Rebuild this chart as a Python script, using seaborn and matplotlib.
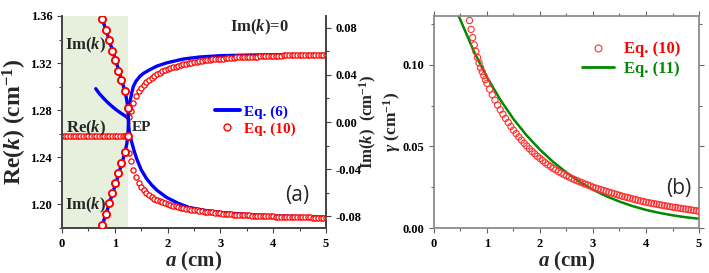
import matplotlib
matplotlib.use('Agg')
import matplotlib.pyplot as plt
from matplotlib.lines import Line2D
from matplotlib.ticker import MultipleLocator
import seaborn as sns

# ---------------- panel (a) ----------------
# Eq. (6), blue lines
a6_im = [0.74, 0.80, 0.86, 0.92, 0.98, 1.04, 1.10, 1.16, 1.20, 1.23, 1.25, 1.26]
im6_up = [0.0910, 0.0825, 0.0745, 0.0658, 0.0575, 0.0490, 0.0400, 0.0310, 0.0245, 0.0180, 0.0105, 0.0]
im6_lo = [-0.0910, -0.0825, -0.0745, -0.0658, -0.0575, -0.0490, -0.0400, -0.0310, -0.0245, -0.0180, -0.0105, 0.0]

a6_arc = [0.64, 0.70, 0.78, 0.86, 0.94, 1.02, 1.10, 1.18, 1.26]
re6_arc = [1.2983, 1.2945, 1.2905, 1.2868, 1.2836, 1.2806, 1.2780, 1.2757, 1.2730]

a6_up = [1.26, 1.265, 1.275, 1.29, 1.32, 1.35, 1.40, 1.477, 1.55, 1.667, 1.80, 1.983, 2.30, 2.61, 3.00, 3.50, 4.00, 5.00]
re6_up = [1.2720, 1.2780, 1.2830, 1.2875, 1.2945, 1.3000, 1.3045, 1.3089, 1.3115, 1.3145, 1.3175, 1.3202,
          1.3235, 1.3252, 1.3263, 1.3268, 1.3271, 1.3273]
a6_lo = [1.26, 1.265, 1.275, 1.29, 1.32, 1.36, 1.415, 1.50, 1.60, 1.70, 1.80, 1.98, 2.20, 2.40, 2.70, 3.00,
         3.50, 4.00, 5.00]
re6_lo = [1.2720, 1.2660, 1.2620, 1.2585, 1.2530, 1.2465, 1.2387, 1.2295, 1.2220, 1.2165, 1.2120, 1.2060,
          1.2010, 1.1975, 1.1950, 1.1932, 1.1915, 1.1903, 1.1892]

# Eq. (10), red circles
a10_im = [0.765, 0.830, 0.893, 0.953, 1.013, 1.070, 1.127, 1.193, 1.248]
im10_up = [0.0877, 0.0785, 0.0695, 0.0605, 0.0526, 0.0436, 0.0355, 0.0259, 0.0120]
im10_lo = [-0.0877, -0.0785, -0.0689, -0.0605, -0.0520, -0.0436, -0.0352, -0.0254, -0.0120]

a10_flat = [0.00, 0.05, 0.10, 0.15, 0.20, 0.25, 0.30, 0.35, 0.40, 0.45, 0.50, 0.55, 0.60, 0.65, 0.70, 0.75,
            0.80, 0.85, 0.90, 0.95, 1.00, 1.05, 1.10, 1.15, 1.20]
re10_flat = [1.258, 1.258, 1.258, 1.258, 1.258, 1.258, 1.258, 1.258, 1.258, 1.258, 1.258, 1.258, 1.258,
             1.258, 1.258, 1.258, 1.258, 1.258, 1.258, 1.258, 1.258, 1.258, 1.258, 1.258, 1.258]

a10_re = [1.27, 1.30, 1.35, 1.40, 1.45, 1.50, 1.55, 1.60, 1.65, 1.70, 1.75, 1.80, 1.85, 1.90, 1.95, 2.00,
          2.05, 2.10, 2.15, 2.20, 2.25, 2.30, 2.35, 2.40, 2.45, 2.50, 2.55, 2.60, 2.65, 2.70, 2.75, 2.80,
          2.85, 2.90, 2.95, 3.00, 3.05, 3.10, 3.15, 3.20, 3.25, 3.30, 3.35, 3.40, 3.45, 3.50, 3.55, 3.60,
          3.65, 3.70, 3.75, 3.80, 3.85, 3.90, 3.95, 4.00, 4.05, 4.10, 4.15, 4.20, 4.25, 4.30, 4.35, 4.40,
          4.45, 4.50, 4.55, 4.60, 4.65, 4.70, 4.75, 4.80, 4.85, 4.90, 4.95, 5.00]
re10_up = [1.2740, 1.2790, 1.2862, 1.2918, 1.2960, 1.2990, 1.3015, 1.3037, 1.3058, 1.3076, 1.3092, 1.3106,
           1.3118, 1.3129, 1.3139, 1.3148, 1.3156, 1.3164, 1.3171, 1.3178, 1.3184, 1.3190, 1.3195, 1.3200,
           1.3205, 1.3209, 1.3213, 1.3217, 1.3220, 1.3223, 1.3226, 1.3229, 1.3231, 1.3233, 1.3235, 1.3237,
           1.3239, 1.3241, 1.3243, 1.3245, 1.3246, 1.3248, 1.3249, 1.3250, 1.3251, 1.3252, 1.3253, 1.3254,
           1.3255, 1.3256, 1.3257, 1.3258, 1.3259, 1.3260, 1.3261, 1.3262, 1.3263, 1.3263, 1.3264, 1.3265,
           1.3265, 1.3266, 1.3267, 1.3267, 1.3268, 1.3268, 1.3269, 1.3269, 1.3270, 1.3270, 1.3271, 1.3271,
           1.3271, 1.3272, 1.3272, 1.3272]
re10_lo = [1.2440, 1.2370, 1.2290, 1.2232, 1.2185, 1.2150, 1.2122, 1.2100, 1.2080, 1.2064, 1.2050, 1.2038,
           1.2027, 1.2018, 1.2010, 1.2003, 1.1996, 1.1990, 1.1984, 1.1978, 1.1973, 1.1968, 1.1964, 1.1960,
           1.1956, 1.1952, 1.1949, 1.1946, 1.1943, 1.1940, 1.1937, 1.1934, 1.1932, 1.1929, 1.1927, 1.1925,
           1.1921, 1.1919, 1.1917, 1.1915, 1.1914, 1.1912, 1.1911, 1.1910, 1.1909, 1.1908, 1.1907, 1.1906,
           1.1905, 1.1904, 1.1903, 1.1902, 1.1901, 1.1900, 1.1899, 1.1898, 1.1897, 1.1897, 1.1896, 1.1895,
           1.1895, 1.1894, 1.1893, 1.1893, 1.1892, 1.1892, 1.1891, 1.1891, 1.1890, 1.1890, 1.1889, 1.1889,
           1.1889, 1.1888, 1.1888, 1.1888]

# ---------------- panel (b) ----------------
a_b10 = [0.67, 0.70, 0.73, 0.76, 0.79, 0.82, 0.85, 0.88, 0.91, 0.94, 0.97, 1.00, 1.05, 1.10, 1.15, 1.20,
         1.25, 1.30, 1.35, 1.40, 1.45, 1.50, 1.55, 1.60, 1.65, 1.70, 1.75, 1.80, 1.85, 1.90, 1.95, 2.00,
         2.05, 2.10, 2.15, 2.20, 2.25, 2.30, 2.35, 2.40, 2.45, 2.50, 2.55, 2.60, 2.65, 2.70, 2.75, 2.80,
         2.85, 2.90, 2.95, 3.00, 3.05, 3.10, 3.15, 3.20, 3.25, 3.30, 3.35, 3.40, 3.45, 3.50, 3.55, 3.60,
         3.65, 3.70, 3.75, 3.80, 3.85, 3.90, 3.95, 4.00, 4.05, 4.10, 4.15, 4.20, 4.25, 4.30, 4.35, 4.40,
         4.45, 4.50, 4.55, 4.60, 4.65, 4.70, 4.75, 4.80, 4.85, 4.90, 4.95, 5.00]
gamma10 = [0.1272, 0.1218, 0.1168, 0.1123, 0.1083, 0.1046, 0.1012, 0.0982, 0.0958, 0.0934, 0.0910, 0.0887,
           0.0851, 0.0817, 0.0784, 0.0754, 0.0725, 0.0698, 0.0672, 0.0647, 0.0623, 0.0600, 0.0579, 0.0558,
           0.0539, 0.0520, 0.0503, 0.0486, 0.0470, 0.0455, 0.0440, 0.0426, 0.0413, 0.0400, 0.0388, 0.0377,
           0.0366, 0.0356, 0.0346, 0.0337, 0.0328, 0.0320, 0.0312, 0.0304, 0.0297, 0.0290, 0.0283, 0.0277,
           0.0270, 0.0264, 0.0258, 0.0250, 0.0245, 0.0240, 0.0235, 0.0230, 0.0225, 0.0220, 0.0215, 0.0210,
           0.0205, 0.0200, 0.0195, 0.0191, 0.0187, 0.0183, 0.0178, 0.0174, 0.0170, 0.0166, 0.0162, 0.0158,
           0.0155, 0.0152, 0.0149, 0.0146, 0.0143, 0.0140, 0.0137, 0.0134, 0.0131, 0.0128, 0.0126, 0.0123,
           0.0121, 0.0118, 0.0116, 0.0113, 0.0111, 0.0108, 0.0106, 0.0103]
a_b11 = [0.40, 0.50, 0.75, 1.00, 1.25, 1.50, 1.75, 2.00, 2.25, 2.50, 2.75, 3.00, 3.25, 3.50, 3.75, 4.00,
         4.25, 4.50, 4.75, 5.00]
gamma11 = [0.1345, 0.1275, 0.1085, 0.0925, 0.0787, 0.0668, 0.0567, 0.0480, 0.0405, 0.0340, 0.0283, 0.0235,
           0.0195, 0.0162, 0.0134, 0.0111, 0.0093, 0.0078, 0.0066, 0.0057]

BLUE = '#0000ff'
RED = '#ff0000'
GREEN = '#008a00'

sns.set_theme(style='ticks')
plt.rcParams['font.family'] = ['Liberation Serif', 'DejaVu Serif']
plt.rcParams['font.weight'] = 'bold'
plt.rcParams['axes.labelweight'] = 'bold'
plt.rcParams['axes.unicode_minus'] = False
plt.rcParams['mathtext.fontset'] = 'custom'
plt.rcParams['mathtext.rm'] = 'Liberation Serif:bold'
plt.rcParams['mathtext.bf'] = 'Liberation Serif:bold'
plt.rcParams['mathtext.it'] = 'Liberation Serif:italic:bold'

fig = plt.figure(figsize=(7.09, 2.73), dpi=100)
ax = fig.add_axes([0.0874, 0.1648, 0.3724, 0.7766])
ax2 = ax.twinx()
axb = fig.add_axes([0.6121, 0.1648, 0.3738, 0.7766])

# ---- panel (a)
ax.axvspan(0, 1.25, color='#e6f0dd', lw=0, zorder=0)
sns.lineplot(x=a6_arc, y=re6_arc, color=BLUE, lw=2.4, ax=ax)
sns.lineplot(x=a6_up, y=re6_up, color=BLUE, lw=2.4, ax=ax)
sns.lineplot(x=a6_lo, y=re6_lo, color=BLUE, lw=2.4, ax=ax)
sns.scatterplot(x=a10_flat, y=re10_flat, marker='o', s=14, facecolor='white', edgecolor=RED,
                linewidth=0.9, zorder=3, ax=ax)
sns.scatterplot(x=a10_re, y=re10_up, marker='o', s=14, facecolor='white', edgecolor=RED,
                linewidth=0.9, zorder=3, ax=ax)
sns.scatterplot(x=a10_re, y=re10_lo, marker='o', s=14, facecolor='white', edgecolor=RED,
                linewidth=0.9, zorder=3, ax=ax)

sns.lineplot(x=a6_im, y=im6_up, color=BLUE, lw=2.4, ax=ax2)
sns.lineplot(x=a6_im, y=im6_lo, color=BLUE, lw=2.4, ax=ax2)
sns.scatterplot(x=a10_im, y=im10_up, marker='o', s=26, facecolor='white', edgecolor=RED,
                linewidth=1.4, zorder=3, ax=ax2)
sns.scatterplot(x=a10_im, y=im10_lo, marker='o', s=26, facecolor='white', edgecolor=RED,
                linewidth=1.4, zorder=3, ax=ax2)

ax.set_xlim(0, 5)
ax.set_ylim(1.18, 1.36)
ax2.set_ylim(-0.09, 0.09)
ax.xaxis.set_minor_locator(MultipleLocator(0.5))
ax.yaxis.set_minor_locator(MultipleLocator(0.02))
ax2.yaxis.set_minor_locator(MultipleLocator(0.02))
ax.set_xticks([0, 1, 2, 3, 4, 5])
ax.set_xticklabels(['0', '1', '2', '3', '4', '5'])
ax.set_yticks([1.20, 1.24, 1.28, 1.32, 1.36])
ax.set_yticklabels(['1.20', '1.24', '1.28', '1.32', '1.36'])
ax2.set_yticks([-0.08, -0.04, 0.0, 0.04, 0.08])
ax2.set_yticklabels(['-0.08', '-0.04', '0.00', '0.04', '0.08'])

ax.set_xlabel(r'$\mathit{a}$ (cm)', fontsize=15, labelpad=0)
ax.set_ylabel(r'Re($\mathit{k}$) (cm$^{-1}$)', fontsize=17, labelpad=1)
ax2.set_ylabel(r'Im($\mathit{k}$)  (cm$^{-1}$)', fontsize=12, labelpad=-3)

ax.spines['top'].set_visible(False)
ax2.spines['top'].set_visible(False)
for sp in ['left', 'bottom', 'right']:
    ax.spines[sp].set_color('#444444')
    ax2.spines[sp].set_color('#444444')
for a_ in (ax, ax2):
    a_.tick_params(which='both', labelsize=9, width=0.8, colors='#444444', labelcolor='black')
    a_.tick_params(which='major', length=3.5)
    a_.tick_params(which='minor', length=2)

ax.text(3.73, 1.3505, r'Im($\mathit{k}$)=0', fontsize=12, ha='center', va='center')
ax.text(0.45, 1.3354, r'Im($\mathit{k}$)', fontsize=12, ha='center', va='center')
ax.text(0.45, 1.2650, r'Re($\mathit{k}$)', fontsize=12, ha='center', va='center')
ax.text(1.33, 1.2650, 'EP', fontsize=11, ha='left', va='center')
ax.text(0.45, 1.1990, r'Im($\mathit{k}$)', fontsize=12, ha='center', va='center')
ax.text(4.45, 1.2080, '(a)', fontsize=15, ha='center', va='center', family='Open Sans', fontweight='normal')

leg_a = ax2.legend(handles=[Line2D([], [], color=BLUE, lw=2.8),
                            Line2D([], [], color=RED, marker='o', ls='none', ms=5, mfc='white', mew=1.0)],
                   labels=['Eq. (6)', 'Eq. (10)'], loc='upper left', bbox_to_anchor=(0.54, 0.63),
                   frameon=False, fontsize=11, handlelength=1.6, handletextpad=0.3, labelspacing=0.2,
                   borderpad=0.2)
leg_a.get_texts()[0].set_color(BLUE)
leg_a.get_texts()[1].set_color(RED)

# ---- panel (b)
sns.scatterplot(x=a_b10, y=gamma10, marker='o', s=20, facecolor='none', edgecolor='#ff3030',
                linewidth=0.8, zorder=3, ax=axb)
sns.lineplot(x=a_b11, y=gamma11, color=GREEN, lw=1.8, ax=axb)
axb.set_xlim(0, 5)
axb.set_ylim(0, 0.13)
axb.set_xticks([0, 1, 2, 3, 4, 5])
axb.set_xticklabels(['0', '1', '2', '3', '4', '5'])
axb.xaxis.set_minor_locator(MultipleLocator(0.5))
axb.set_yticks([0.0, 0.05, 0.10])
axb.set_yticklabels(['0.00', '0.05', '0.10'])
axb.yaxis.set_minor_locator(MultipleLocator(0.025))
axb.tick_params(which='both', labelsize=9, width=0.8, colors='#666666', labelcolor='black',
                top=True, right=True)
axb.tick_params(which='major', length=3.5)
axb.tick_params(which='minor', length=2)
for sp in axb.spines.values():
    sp.set_color('#888888')
axb.set_xlabel(r'$\mathit{a}$ (cm)', fontsize=15, labelpad=0)
axb.set_ylabel(r'$\gamma$ (cm$^{-1}$)', fontsize=12.5, labelpad=0)
axb.text(4.62, 0.0243, '(b)', fontsize=15, ha='center', va='center', family='Open Sans', fontweight='normal')

leg_b = axb.legend(handles=[Line2D([], [], color='#ff3030', marker='o', ls='none', ms=5, mfc='none', mew=0.8),
                            Line2D([], [], color=GREEN, lw=2.0)],
                   labels=['Eq. (10)', 'Eq. (11)'], loc='upper left', bbox_to_anchor=(0.515, 0.935),
                   frameon=False, fontsize=12, handlelength=1.9, handletextpad=0.6, labelspacing=0.2,
                   borderpad=0.2)
leg_b.get_texts()[0].set_color(RED)
leg_b.get_texts()[1].set_color(GREEN)

fig.savefig('out.png', dpi=100)
